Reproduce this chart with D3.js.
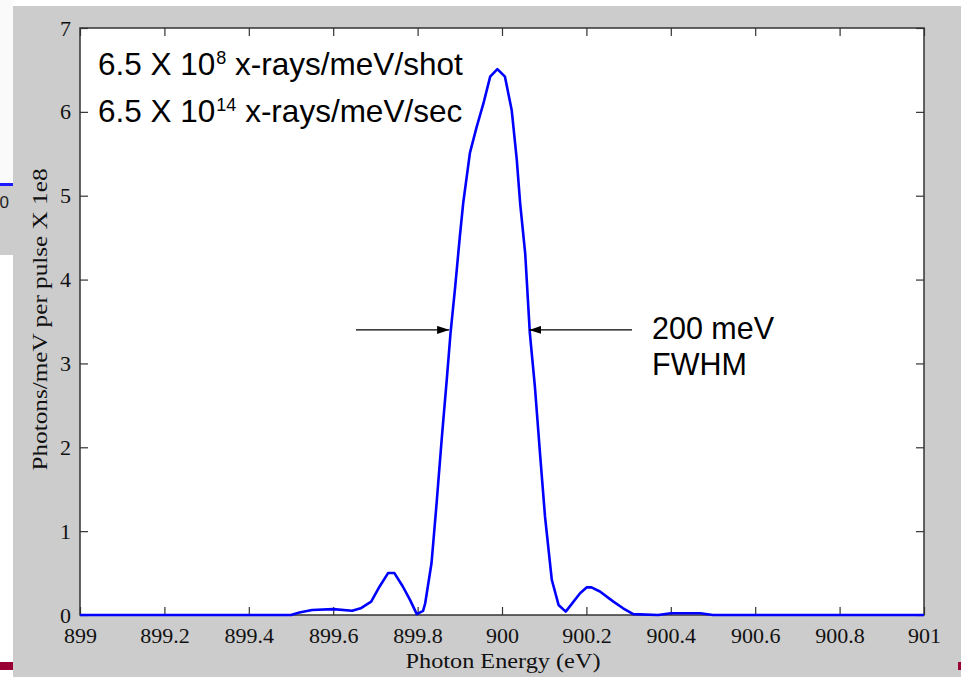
<!DOCTYPE html>
<html><head><meta charset="utf-8">
<script src="https://cdn.jsdelivr.net/npm/d3@7"></script>
<style>html,body{margin:0;padding:0;background:#fff;}svg{display:block;}</style>
</head><body>
<script>
// ---- data ----
const energy = [899.00, 899.50, 899.52, 899.55, 899.60, 899.645, 899.665, 899.69, 899.71, 899.73, 899.745, 899.765, 899.782, 899.798, 899.813, 899.818, 899.833, 899.845, 899.857, 899.869, 899.878, 899.889, 899.900, 899.908, 899.924, 899.940, 899.956, 899.972, 899.989, 900.007, 900.023, 900.035, 900.043, 900.055, 900.066, 900.078, 900.090, 900.102, 900.118, 900.134, 900.151, 900.185, 900.201, 900.212, 900.232, 900.264, 900.287, 900.311, 900.37, 900.40, 900.47, 900.50, 901.00];
const photons = [0, 0, 0.03, 0.06, 0.07, 0.05, 0.08, 0.16, 0.34, 0.50, 0.50, 0.34, 0.18, 0.01, 0.05, 0.14, 0.62, 1.33, 2.09, 2.80, 3.36, 3.91, 4.51, 4.91, 5.51, 5.82, 6.10, 6.42, 6.51, 6.42, 6.02, 5.43, 4.91, 4.31, 3.36, 2.72, 1.93, 1.17, 0.42, 0.12, 0.04, 0.26, 0.33, 0.33, 0.28, 0.16, 0.08, 0.01, 0, 0.02, 0.02, 0, 0];
const xTicks = [899, 899.2, 899.4, 899.6, 899.8, 900, 900.2, 900.4, 900.6, 900.8, 901];
const yTicks = [0, 1, 2, 3, 4, 5, 6, 7];
const xLabel = "Photon Energy (eV)";
const yLabel = "Photons/meV per pulse X 1e8";
const fwhmLeft = 899.877, fwhmRight = 900.062, fwhmLevel = 3.4;

const W = 961, H = 677;
const m = {left: 80, top: 28, right: 924, bottom: 615};

const svg = d3.select("body").append("svg").attr("width", W).attr("height", H);

// slide background pieces
svg.append("rect").attr("x", 0).attr("y", 0).attr("width", W).attr("height", H).attr("fill", "#ffffff");
svg.append("rect").attr("x", 0).attr("y", 0).attr("width", 13).attr("height", 183).attr("fill", "#fafafa");
svg.append("rect").attr("x", 0).attr("y", 183).attr("width", 13).attr("height", 3).attr("fill", "#1a1aff");
svg.append("rect").attr("x", 0).attr("y", 186).attr("width", 13).attr("height", 69).attr("fill", "#cccccc");
svg.append("text").attr("x", 9).attr("y", 208).attr("text-anchor", "end")
  .attr("font-family", "Liberation Sans, Arial, sans-serif").attr("font-size", 17).attr("fill", "#222").text("0");
svg.append("rect").attr("x", 0).attr("y", 662).attr("width", 13).attr("height", 8).attr("fill", "#990033");
svg.append("rect").attr("x", 13).attr("y", 6).attr("width", W - 13).attr("height", H - 6).attr("fill", "#cccccc");
svg.append("rect").attr("x", 958).attr("y", 662).attr("width", 3).attr("height", 8).attr("fill", "#990033");

const x = d3.scaleLinear().domain([899, 901]).range([m.left, m.right]);
const y = d3.scaleLinear().domain([0, 7]).range([m.bottom, m.top]);

// plot area
svg.append("rect").attr("x", m.left).attr("y", m.top)
  .attr("width", m.right - m.left).attr("height", m.bottom - m.top).attr("fill", "#ffffff");

const fmt = d3.format("~g");
const tickFont = "Liberation Serif, Times New Roman, serif";

function styleAxis(g) {
  g.select(".domain").remove();
  g.selectAll(".tick line").attr("stroke", "#333").attr("stroke-width", 1.2);
  g.selectAll(".tick text").attr("font-family", tickFont).attr("font-size", 22).attr("fill", "#111");
}

svg.append("g").attr("transform", `translate(0,${m.bottom})`)
  .call(d3.axisBottom(x).tickValues(xTicks).tickFormat(fmt).tickSize(-8).tickPadding(12))
  .call(styleAxis);
svg.append("g").attr("transform", `translate(0,${m.top})`)
  .call(d3.axisTop(x).tickValues(xTicks).tickFormat("").tickSize(-8))
  .call(styleAxis);
svg.append("g").attr("transform", `translate(${m.left},0)`)
  .call(d3.axisLeft(y).tickValues(yTicks).tickFormat(fmt).tickSize(-8).tickPadding(9))
  .call(styleAxis);
svg.append("g").attr("transform", `translate(${m.right},0)`)
  .call(d3.axisRight(y).tickValues(yTicks).tickFormat("").tickSize(-8))
  .call(styleAxis);

// frame
svg.append("rect").attr("x", m.left).attr("y", m.top)
  .attr("width", m.right - m.left).attr("height", m.bottom - m.top)
  .attr("fill", "none").attr("stroke", "#333").attr("stroke-width", 1.5);

// curve
const line = d3.line().x((d, i) => x(energy[i])).y(d => y(d));
svg.append("path").datum(photons).attr("d", line)
  .attr("fill", "none").attr("stroke", "#0000ff").attr("stroke-width", 2.6).attr("stroke-linejoin", "round");

// axis labels
svg.append("text").attr("x", (m.left + m.right) / 2 + 1).attr("y", 668).attr("text-anchor", "middle")
  .attr("font-family", tickFont).attr("font-size", 21).attr("fill", "#111")
  .attr("textLength", 195).attr("lengthAdjust", "spacingAndGlyphs").text(xLabel);
svg.append("text").attr("transform", `translate(47,${(m.top + m.bottom) / 2 - 2}) rotate(-90)`)
  .attr("text-anchor", "middle")
  .attr("font-family", tickFont).attr("font-size", 20).attr("fill", "#111")
  .attr("textLength", 302).attr("lengthAdjust", "spacingAndGlyphs").text(yLabel);

// annotations
const sans = "Liberation Sans, Arial, sans-serif";
function supText(xp, yp, a, sup, b) {
  const t = svg.append("text").attr("x", xp).attr("y", yp)
    .attr("font-family", sans).attr("font-size", 31.5).attr("fill", "#000");
  t.append("tspan").text(a);
  t.append("tspan").attr("font-size", 18).attr("dy", -11).attr("dx", 1).text(sup);
  t.append("tspan").attr("dy", 11).text(b);
}
supText(98, 75, "6.5 X 10", "8", " x-rays/meV/shot");
supText(98, 122, "6.5 X 10", "14", " x-rays/meV/sec");

svg.append("text").attr("x", 652).attr("y", 339).attr("font-family", sans).attr("font-size", 30.5).attr("fill", "#000").text("200 meV");
svg.append("text").attr("x", 652).attr("y", 375).attr("font-family", sans).attr("font-size", 30.5).attr("fill", "#000").text("FWHM");

// FWHM arrows
const defs = svg.append("defs");
defs.append("marker").attr("id", "ah").attr("viewBox", "0 0 12 8").attr("refX", 12).attr("refY", 4)
  .attr("markerWidth", 12).attr("markerHeight", 8).attr("markerUnits", "userSpaceOnUse").attr("orient", "auto")
  .append("path").attr("d", "M0,0 L12,4 L0,8 Z").attr("fill", "#000");
const ay = y(fwhmLevel);
svg.append("line").attr("x1", 356).attr("y1", ay).attr("x2", x(fwhmLeft) - 1).attr("y2", ay)
  .attr("stroke", "#000").attr("stroke-width", 1.3).attr("marker-end", "url(#ah)");
svg.append("line").attr("x1", 632).attr("y1", ay).attr("x2", x(fwhmRight) + 1).attr("y2", ay)
  .attr("stroke", "#000").attr("stroke-width", 1.3).attr("marker-end", "url(#ah)");
</script>
</body></html>
